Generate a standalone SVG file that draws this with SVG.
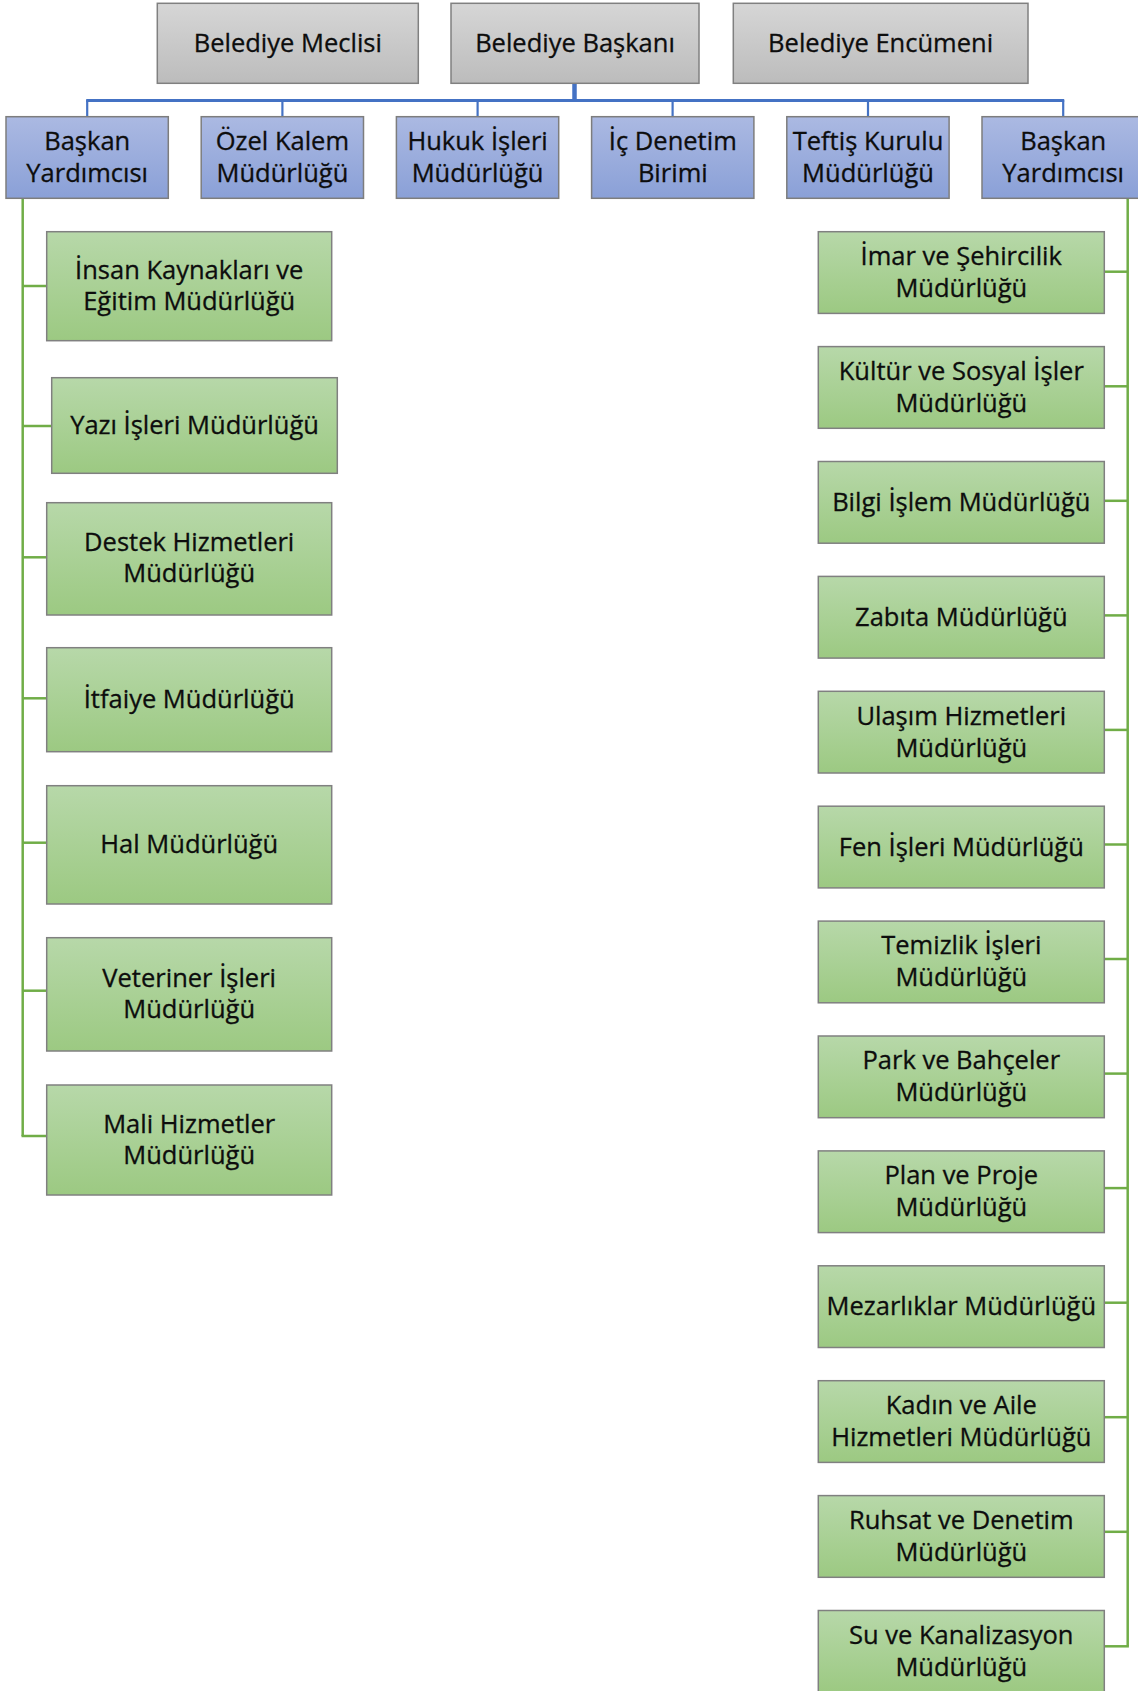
<svg xmlns="http://www.w3.org/2000/svg" width="1138" height="1691" viewBox="0 0 1138 1691">
<defs>
<linearGradient id="gGray" x1="0" y1="0" x2="0" y2="1"><stop offset="0" stop-color="#d6d6d6"/><stop offset="1" stop-color="#bcbcbc"/></linearGradient>
<linearGradient id="gBlue" x1="0" y1="0" x2="0" y2="1"><stop offset="0" stop-color="#abb9e2"/><stop offset="1" stop-color="#8aa0d7"/></linearGradient>
<linearGradient id="gGreen" x1="0" y1="0" x2="0" y2="1"><stop offset="0" stop-color="#b7d8a9"/><stop offset="1" stop-color="#9cc982"/></linearGradient>
<style>
.t{font-family:"Open Sans","Noto Sans","DejaVu Sans",sans-serif;font-size:25.5px;fill:#0d0d0d;stroke:#0d0d0d;stroke-width:0.3px;text-anchor:middle}
.gray{fill:url(#gGray);stroke:#808080;stroke-width:1.5}
.blue{fill:url(#gBlue);stroke:#7d7d7d;stroke-width:1.5}
.green{fill:url(#gGreen);stroke:#808080;stroke-width:1.5}
.bl{stroke:#4472c4;stroke-width:2.2;fill:none}
.gl{stroke:#70ad47;stroke-width:2.5;fill:none}
</style>
</defs>
<rect width="1138" height="1691" fill="#ffffff"/>
<g id="connectors">
<line class="bl" x1="574.5" y1="83.3" x2="574.5" y2="101" style="stroke-width:4.5"/>
<line class="bl" x1="86.2" y1="100.5" x2="1064.2" y2="100.5" style="stroke-width:3"/>
<line class="bl" x1="87.2" y1="100" x2="87.2" y2="116.7"/>
<line class="bl" x1="282.4" y1="100" x2="282.4" y2="116.7"/>
<line class="bl" x1="477.6" y1="100" x2="477.6" y2="116.7"/>
<line class="bl" x1="672.6" y1="100" x2="672.6" y2="116.7"/>
<line class="bl" x1="868" y1="100" x2="868" y2="116.7"/>
<line class="bl" x1="1063.2" y1="100" x2="1063.2" y2="116.7"/>
<line class="gl" x1="22.7" y1="198.3" x2="22.7" y2="1136"/>
<line class="gl" x1="22.7" y1="286" x2="46.7" y2="286"/>
<line class="gl" x1="22.7" y1="426" x2="51.7" y2="426"/>
<line class="gl" x1="22.7" y1="557.3" x2="46.7" y2="557.3"/>
<line class="gl" x1="22.7" y1="698.3" x2="46.7" y2="698.3"/>
<line class="gl" x1="22.7" y1="842.7" x2="46.7" y2="842.7"/>
<line class="gl" x1="22.7" y1="990.7" x2="46.7" y2="990.7"/>
<line class="gl" x1="21.5" y1="1136" x2="46.7" y2="1136"/>
<line class="gl" x1="1127.7" y1="198.3" x2="1127.7" y2="1646.3"/>
<line class="gl" x1="1104.3" y1="271.7" x2="1127.7" y2="271.7"/>
<line class="gl" x1="1104.3" y1="386.3" x2="1127.7" y2="386.3"/>
<line class="gl" x1="1104.3" y1="500.8" x2="1127.7" y2="500.8"/>
<line class="gl" x1="1104.3" y1="615.4" x2="1127.7" y2="615.4"/>
<line class="gl" x1="1104.3" y1="729.9" x2="1127.7" y2="729.9"/>
<line class="gl" x1="1104.3" y1="844.5" x2="1127.7" y2="844.5"/>
<line class="gl" x1="1104.3" y1="959" x2="1127.7" y2="959"/>
<line class="gl" x1="1104.3" y1="1073.6" x2="1127.7" y2="1073.6"/>
<line class="gl" x1="1104.3" y1="1188.1" x2="1127.7" y2="1188.1"/>
<line class="gl" x1="1104.3" y1="1302.7" x2="1127.7" y2="1302.7"/>
<line class="gl" x1="1104.3" y1="1417.2" x2="1127.7" y2="1417.2"/>
<line class="gl" x1="1104.3" y1="1531.8" x2="1127.7" y2="1531.8"/>
<line class="gl" x1="1104.3" y1="1646.3" x2="1128.9" y2="1646.3"/>
</g>
<g id="n-meclis"><rect class="gray" x="157.3" y="3.3" width="261" height="80"/><text class="t" x="287.8" y="51.8">Belediye Meclisi</text></g>
<g id="n-baskan"><rect class="gray" x="451" y="3.3" width="248" height="80"/><text class="t" x="575" y="51.8">Belediye Başkanı</text></g>
<g id="n-encumen"><rect class="gray" x="733.3" y="3.3" width="294.7" height="80"/><text class="t" x="880.6" y="51.8">Belediye Encümeni</text></g>
<g id="n-by1"><rect class="blue" x="6" y="116.7" width="162.3" height="81.6"/><text class="t" x="87.2" y="150">Başkan</text><text class="t" x="87.2" y="182">Yardımcısı</text></g>
<g id="n-ozel"><rect class="blue" x="201.2" y="116.7" width="162.3" height="81.6"/><text class="t" x="282.4" y="150">Özel Kalem</text><text class="t" x="282.4" y="182">Müdürlüğü</text></g>
<g id="n-hukuk"><rect class="blue" x="396.4" y="116.7" width="162.3" height="81.6"/><text class="t" x="477.6" y="150">Hukuk İşleri</text><text class="t" x="477.6" y="182">Müdürlüğü</text></g>
<g id="n-icdenetim"><rect class="blue" x="591.6" y="116.7" width="162.3" height="81.6"/><text class="t" x="672.8" y="150">İç Denetim</text><text class="t" x="672.8" y="182">Birimi</text></g>
<g id="n-teftis"><rect class="blue" x="786.8" y="116.7" width="162.3" height="81.6"/><text class="t" x="868" y="150">Teftiş Kurulu</text><text class="t" x="868" y="182">Müdürlüğü</text></g>
<g id="n-by2"><rect class="blue" x="982" y="116.7" width="162.3" height="81.6"/><text class="t" x="1063.2" y="150">Başkan</text><text class="t" x="1063.2" y="182">Yardımcısı</text></g>
<g id="n-insan"><rect class="green" x="46.7" y="231.7" width="285" height="109"/><text class="t" x="189.2" y="278.7">İnsan Kaynakları ve</text><text class="t" x="189.2" y="309.7">Eğitim Müdürlüğü</text></g>
<g id="n-yazi"><rect class="green" x="51.7" y="377.7" width="285.6" height="95.6"/><text class="t" x="194.5" y="434">Yazı İşleri Müdürlüğü</text></g>
<g id="n-destek"><rect class="green" x="46.7" y="502.7" width="285" height="112.3"/><text class="t" x="189.2" y="551">Destek Hizmetleri</text><text class="t" x="189.2" y="582">Müdürlüğü</text></g>
<g id="n-itfaiye"><rect class="green" x="46.7" y="647.7" width="285" height="104"/><text class="t" x="189.2" y="708">İtfaiye Müdürlüğü</text></g>
<g id="n-hal"><rect class="green" x="46.7" y="785.7" width="285" height="118.3"/><text class="t" x="189.2" y="853">Hal Müdürlüğü</text></g>
<g id="n-veteriner"><rect class="green" x="46.7" y="937.7" width="285" height="113.3"/><text class="t" x="189.2" y="986.5">Veteriner İşleri</text><text class="t" x="189.2" y="1018">Müdürlüğü</text></g>
<g id="n-mali"><rect class="green" x="46.7" y="1085" width="285" height="110"/><text class="t" x="189.2" y="1132.5">Mali Hizmetler</text><text class="t" x="189.2" y="1164">Müdürlüğü</text></g>
<g id="n-imar"><rect class="green" x="818.3" y="231.7" width="286" height="81.7"/><text class="t" x="961.3" y="265">İmar ve Şehircilik</text><text class="t" x="961.3" y="297">Müdürlüğü</text></g>
<g id="n-kultur"><rect class="green" x="818.3" y="346.6" width="286" height="81.7"/><text class="t" x="961.3" y="380">Kültür ve Sosyal İşler</text><text class="t" x="961.3" y="412">Müdürlüğü</text></g>
<g id="n-bilgi"><rect class="green" x="818.3" y="461.5" width="286" height="81.7"/><text class="t" x="961.3" y="510.8">Bilgi İşlem Müdürlüğü</text></g>
<g id="n-zabita"><rect class="green" x="818.3" y="576.4" width="286" height="81.7"/><text class="t" x="961.3" y="625.7">Zabıta Müdürlüğü</text></g>
<g id="n-ulasim"><rect class="green" x="818.3" y="691.3" width="286" height="81.7"/><text class="t" x="961.3" y="724.6">Ulaşım Hizmetleri</text><text class="t" x="961.3" y="756.6">Müdürlüğü</text></g>
<g id="n-fen"><rect class="green" x="818.3" y="806.2" width="286" height="81.7"/><text class="t" x="961.3" y="855.5">Fen İşleri Müdürlüğü</text></g>
<g id="n-temizlik"><rect class="green" x="818.3" y="921.1" width="286" height="81.7"/><text class="t" x="961.3" y="954.4">Temizlik İşleri</text><text class="t" x="961.3" y="986.4">Müdürlüğü</text></g>
<g id="n-park"><rect class="green" x="818.3" y="1036" width="286" height="81.7"/><text class="t" x="961.3" y="1069.3">Park ve Bahçeler</text><text class="t" x="961.3" y="1101.3">Müdürlüğü</text></g>
<g id="n-plan"><rect class="green" x="818.3" y="1150.9" width="286" height="81.7"/><text class="t" x="961.3" y="1184.2">Plan ve Proje</text><text class="t" x="961.3" y="1216.2">Müdürlüğü</text></g>
<g id="n-mezarlik"><rect class="green" x="818.3" y="1265.8" width="286" height="81.7"/><text class="t" x="961.3" y="1315.1">Mezarlıklar Müdürlüğü</text></g>
<g id="n-kadin"><rect class="green" x="818.3" y="1380.7" width="286" height="81.7"/><text class="t" x="961.3" y="1414">Kadın ve Aile</text><text class="t" x="961.3" y="1446">Hizmetleri Müdürlüğü</text></g>
<g id="n-ruhsat"><rect class="green" x="818.3" y="1495.6" width="286" height="81.7"/><text class="t" x="961.3" y="1528.9">Ruhsat ve Denetim</text><text class="t" x="961.3" y="1560.9">Müdürlüğü</text></g>
<g id="n-su"><rect class="green" x="818.3" y="1610.5" width="286" height="81.7"/><text class="t" x="961.3" y="1643.8">Su ve Kanalizasyon</text><text class="t" x="961.3" y="1675.8">Müdürlüğü</text></g>
</svg>
